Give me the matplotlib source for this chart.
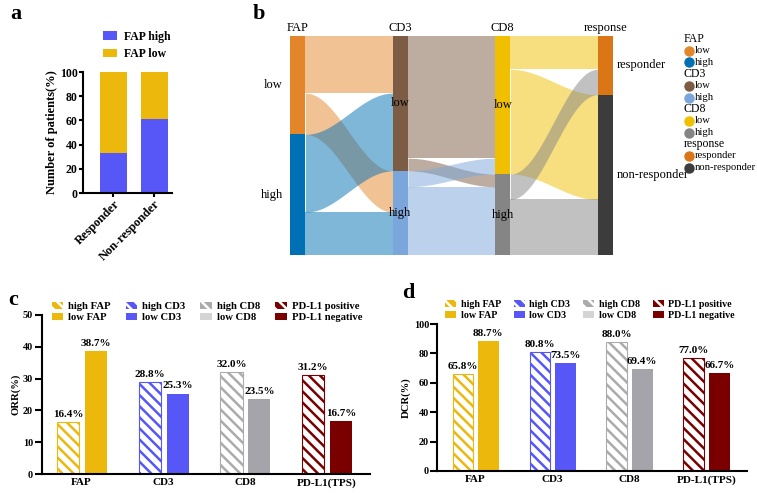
import numpy as np
import matplotlib
matplotlib.use("Agg")
import matplotlib.pyplot as plt
from matplotlib.patches import Patch, Rectangle

plt.rcParams['font.family'] = ['Liberation Serif', 'DejaVu Serif']
plt.rcParams['hatch.linewidth'] = 1.8

W, H = 757, 493

# ---- panel a data
a_groups = ['Responder', 'Non-responder']
a_fap_high = [33.3, 61.5]
a_fap_low = [66.7, 38.5]

# ---- panel b (sankey) data
b_columns = ['FAP', 'CD3', 'CD8', 'response']
b_nodes = [['low', 'high'], ['low', 'high'], ['low', 'high'], ['responder', 'non-responder']]
# (column, source index, target index, patients)
b_flows = [
    (0, 0, 0, 36), (0, 0, 1, 26), (0, 1, 0, 49), (0, 1, 1, 27),
    (1, 0, 0, 77), (1, 0, 1, 8), (1, 1, 0, 10), (1, 1, 1, 43),
    (2, 0, 0, 21), (2, 0, 1, 66), (2, 1, 0, 16), (2, 1, 1, 35),
]
b_colors = [['#E3862A', '#0070B5'], ['#7D5C45', '#7BA6DB'],
            ['#F0C000', '#858585'], ['#DA7616', '#3C3C3C']]

# ---- panels c / d data
cd_groups = ['FAP', 'CD3', 'CD8', 'PD-L1(TPS)']
orr_high = [16.4, 28.8, 32.0, 31.2]
orr_low = [38.7, 25.3, 23.5, 16.7]
dcr_high = [65.8, 80.8, 88.0, 77.0]
dcr_low = [88.7, 73.5, 69.4, 66.7]
high_labels = ['high FAP', 'high CD3', 'high CD8', 'PD-L1 positive']
low_labels = ['low FAP', 'low CD3', 'low CD8', 'PD-L1 negative']
high_colors = ['#ECB80C', '#5757F7', '#ABABAB', '#7A0000']
low_colors = ['#ECB80C', '#5757F7', '#A4A4AA', '#7A0000']
legend_low_colors = ['#ECB80C', '#5757F7', '#D4D4D4', '#7A0000']


def px(l, t, r, b):
    return [l / W, 1 - b / H, (r - l) / W, (b - t) / H]


fig = plt.figure(figsize=(W / 100, H / 100), dpi=100)


def style_axis(ax, tl=4, tp=2):
    for s in ['top', 'right']:
        ax.spines[s].set_visible(False)
    for s in ['left', 'bottom']:
        ax.spines[s].set_linewidth(1.5)
    ax.tick_params(width=1.5, length=tl, pad=tp)
    for t in ax.get_xticklabels() + ax.get_yticklabels():
        t.set_fontweight('bold')


# ================= panel a
axa = fig.add_axes(px(83, 72, 172, 193))
xa = np.arange(len(a_groups))
b1 = axa.bar(xa, a_fap_high, 0.66, color='#5757F7', label='FAP high')
b2 = axa.bar(xa, a_fap_low, 0.66, bottom=a_fap_high, color='#ECB80C', label='FAP low')
axa.set_xlim(-0.74, 1.43)
axa.set_ylim(0, 100)
axa.set_yticks(range(0, 101, 20))
axa.set_xticks(xa)
axa.set_xticklabels(a_groups, rotation=45, ha='right', rotation_mode='anchor', fontsize=9)
axa.tick_params(axis='y', labelsize=8.5)
axa.set_ylabel('Number of patients(%)', fontsize=9, fontweight='bold', labelpad=1.5)
style_axis(axa, tl=3, tp=0.8)
fig.legend(handles=[b1, b2], loc='upper left', bbox_to_anchor=(92 / W, 1 - 20 / H),
           frameon=False, prop={'weight': 'bold', 'size': 8.5}, handlelength=1.2,
           handleheight=0.7, labelspacing=0.45, handletextpad=0.6)
fig.text(10 / W, 1 - 14 / H, 'a', fontsize=16, fontweight='bold', va='center')

# ================= panel b (sankey)
nw = 0.15
axb = fig.add_axes(px(290, 36, 290 + (3 + nw) * 102.5, 255))
axb.set_xlim(0, 3 + nw)
totals = [[0, 0] for _ in b_columns]
for c, s, t, v in b_flows:
    totals[c][s] += v
for c, s, t, v in b_flows:
    if c == 2:
        totals[3][t] += v
total = sum(totals[0])
axb.set_ylim(total, 0)
axb.axis('off')

starts = []
for c in range(len(b_columns)):
    y = 0
    st = []
    for k in range(2):
        st.append(y)
        axb.add_patch(Rectangle((c, y), nw, totals[c][k], color=b_colors[c][k], lw=0, zorder=3))
        y += totals[c][k]
    starts.append(st)

out_off = [list(s) for s in starts]
in_off = [list(s) for s in starts]
tt = np.linspace(0, 1, 100)
sm = (1 - np.cos(np.pi * tt)) / 2
for c, s, t, v in b_flows:
    y0 = out_off[c][s]
    y1 = in_off[c + 1][t]
    out_off[c][s] += v
    in_off[c + 1][t] += v
    x = c + nw + tt * (1 - nw)
    top = y0 + (y1 - y0) * sm
    axb.fill_between(x, top, top + v, color=b_colors[c][s], alpha=0.5, lw=0, zorder=1)

for c, name in enumerate(b_columns):
    axb.text(c + nw / 2, -1.2, name, ha='center', va='bottom', fontsize=9, clip_on=False)
    for k, lab in enumerate(b_nodes[c]):
        ym = starts[c][k] + totals[c][k] / 2
        if c == 0:
            axb.text(-0.07, ym, lab, ha='right', va='center', fontsize=9)
        elif c == 3:
            axb.text(c + nw + 0.04, ym, lab, ha='left', va='center', fontsize=9)
        else:
            axb.text(c + nw / 2, ym, lab, ha='center', va='center', fontsize=9, zorder=4)

# sankey legend
ly = 39
for c, name in enumerate(b_columns):
    fig.text(684 / W, 1 - ly / H, name, fontsize=8.5, va='center')
    ly += 11.7
    for k, lab in enumerate(b_nodes[c]):
        fig.add_artist(plt.Line2D([688.5 / W], [1 - ly / H], marker='o', markersize=6.5,
                                  color=b_colors[c][k], lw=0))
        fig.text(695 / W, 1 - ly / H, lab, fontsize=7.6, va='center')
        ly += 11.7
fig.text(253 / W, 1 - 14 / H, 'b', fontsize=16, fontweight='bold', va='center')


# ================= panels c / d
def grouped(rect, xlim, ymax, ystep, hv, lv, ylabel, off, leg_anchor, colsp, lfs):
    ax = fig.add_axes(px(*rect))
    x = np.arange(len(cd_groups))
    for i in range(len(cd_groups)):
        ax.bar(x[i] - off[0], hv[i], 0.27, facecolor='white', edgecolor=high_colors[i],
               hatch='\\\\\\', lw=0.8)
        ax.bar(x[i] + off[1], lv[i], 0.27, color=low_colors[i], lw=0)
        ax.text(x[i] - off[0], hv[i] + ymax * 0.02, f'{hv[i]:.1f}%', ha='center',
                va='bottom', fontsize=8, fontweight='bold')
        ax.text(x[i] + off[1], lv[i] + ymax * 0.02, f'{lv[i]:.1f}%', ha='center',
                va='bottom', fontsize=8, fontweight='bold')
    ax.set_xlim(*xlim)
    ax.set_ylim(0, ymax)
    ax.set_yticks(np.arange(0, ymax + 1, ystep))
    ax.set_xticks(x)
    ax.set_xticklabels(cd_groups, fontsize=8)
    ax.tick_params(axis='y', labelsize=7.3)
    ax.set_ylabel(ylabel, fontsize=7.7, fontweight='bold', labelpad=2)
    style_axis(ax, tl=5, tp=1)
    ax.tick_params(axis='x', length=0, pad=3)
    handles = []
    for i in range(len(cd_groups)):
        handles.append(Patch(facecolor=high_colors[i], edgecolor='white', hatch='\\\\\\',
                             lw=0, label=high_labels[i]))
        handles.append(Patch(facecolor=legend_low_colors[i], lw=0, label=low_labels[i]))
    fig.legend(handles=handles, ncol=4, loc='upper left',
               bbox_to_anchor=(leg_anchor[0] / W, 1 - leg_anchor[1] / H), frameon=False,
               prop={'weight': 'bold', 'size': lfs}, handlelength=1.1, handleheight=0.7,
               labelspacing=0.15, handletextpad=0.45, columnspacing=colsp)
    return ax


grouped((41.5, 315, 370, 474), (-0.49, 3.53), 50, 10, orr_high, orr_low, 'ORR(%)',
        (0.165, 0.177), (42, 292), 1.4, 7.7)
fig.text(8 / W, 1 - 300 / H, 'c', fontsize=16, fontweight='bold', va='center')

grouped((437.5, 324, 747, 471), (-0.49, 3.53), 100, 20, dcr_high, dcr_low, 'DCR(%)',
        (0.16, 0.17), (436, 291), 1.3, 7.2)
fig.text(402 / W, 1 - 293 / H, 'd', fontsize=16, fontweight='bold', va='center')

fig.savefig('out.png', dpi=100)
